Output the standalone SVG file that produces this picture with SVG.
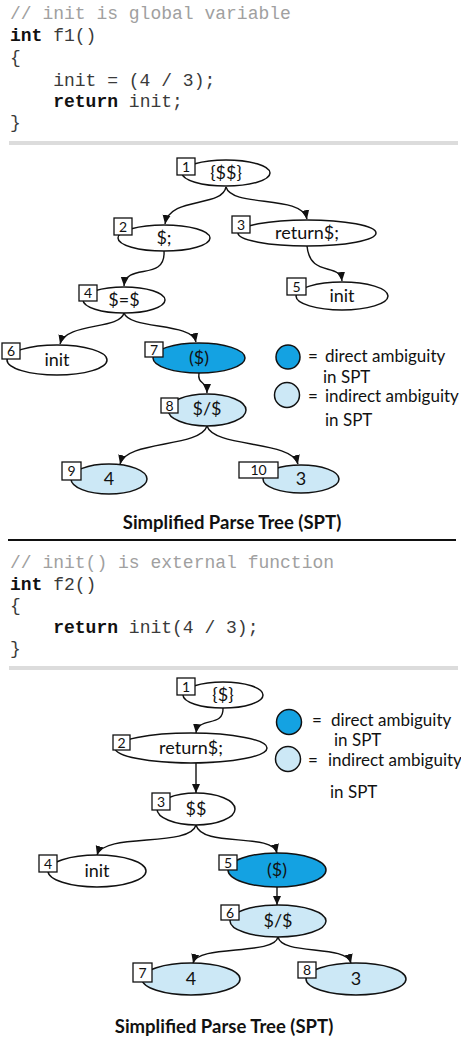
<svg xmlns="http://www.w3.org/2000/svg" width="461" height="1038" viewBox="0 0 461 1038">
<style>
.code{font-family:"Liberation Mono",monospace;font-size:18px;fill:#3a3a3a;white-space:pre}
.cm{fill:#a0a0a0}
.kw{font-weight:bold;fill:#111}
.n{fill:#fff;stroke:#111;stroke-width:1.5}
.d{fill:#14a2e2;stroke:#111;stroke-width:1.5}
.l{fill:#cce8f6;stroke:#111;stroke-width:1.5}
.lab{font-family:Lato,"Open Sans",sans-serif;font-size:18px;fill:#111;text-anchor:middle}
.bx{fill:#fff;stroke:#111;stroke-width:1.3}
.bt{font-family:Lato,"Open Sans",sans-serif;font-size:14px;fill:#111;text-anchor:middle}
.leg{font-family:Lato,"Open Sans",sans-serif;font-size:17px;fill:#111}
.title{font-family:Lato,"Open Sans",sans-serif;font-size:18.5px;font-weight:bold;fill:#111;text-anchor:middle}
.e{fill:none;stroke:#111;stroke-width:1.4;marker-end:url(#ah)}
</style>
<defs>
<marker id="ah" markerWidth="10" markerHeight="10" refX="9" refY="5" orient="auto" markerUnits="userSpaceOnUse">
<path d="M0,1 L9,5 L0,9 Z" fill="#111"/>
</marker>
</defs>
<rect width="461" height="1038" fill="#fff"/>

<!-- code 1 -->
<g id="code1">
<text x="10" y="19" class="code cm">// init is global variable</text>
<text x="10" y="41" class="code"><tspan class="kw">int</tspan> f1()</text>
<text x="10" y="63" class="code">{</text>
<text x="10" y="86" class="code">    init = (4 / 3);</text>
<text x="10" y="107" class="code">    <tspan class="kw">return</tspan> init;</text>
<text x="10" y="128" class="code">}</text>
</g>
<rect x="9" y="141" width="449" height="4" fill="#dcdcdc"/>

<!-- tree 1 connectors -->
<g id="edges1">
<path class="e" d="M226,187 C222,208 170,196 165,224"/>
<path class="e" d="M226,187 C232,208 302,194 307,219"/>
<path class="e" d="M164,251 C166,282 126,262 124,286"/>
<path class="e" d="M307,246 C310,278 340,262 342,281"/>
<path class="e" d="M124,313 C120,330 66,322 60,344"/>
<path class="e" d="M124,313 C130,330 192,322 196,342"/>
<path class="e" d="M199,373 C197,385 207,380 207,393"/>
<path class="e" d="M207,426 C200,448 126,440 120,464"/>
<path class="e" d="M207,426 C214,448 292,440 298,464"/>
</g>

<g id="t1n1"><ellipse class="n" cx="226" cy="173" rx="44" ry="13"/><text class="lab" x="226" y="179">{$$}</text><rect class="bx" x="177" y="158" width="18" height="17"/><text class="bt" x="186" y="171.5">1</text></g>
<g id="t1n2"><ellipse class="n" cx="164" cy="238" rx="46" ry="13"/><text class="lab" x="164" y="244">$;</text><rect class="bx" x="114" y="218" width="18" height="17"/><text class="bt" x="123" y="231.5">2</text></g>
<g id="t1n3"><ellipse class="n" cx="307" cy="233" rx="69" ry="13"/><text class="lab" x="307" y="239">return$;</text><rect class="bx" x="232" y="216" width="18" height="17"/><text class="bt" x="241" y="229.5">3</text></g>
<g id="t1n4"><ellipse class="n" cx="124" cy="300" rx="41" ry="13"/><text class="lab" x="124" y="306">$=$</text><rect class="bx" x="79" y="285" width="18" height="16"/><text class="bt" x="88" y="298">4</text></g>
<g id="t1n5"><ellipse class="n" cx="342" cy="296" rx="46" ry="14"/><text class="lab" x="342" y="302">init</text><rect class="bx" x="287" y="278" width="19" height="17"/><text class="bt" x="296.5" y="291.5">5</text></g>
<g id="t1n6"><ellipse class="n" cx="57" cy="360" rx="50" ry="15"/><text class="lab" x="57" y="366">init</text><rect class="bx" x="2" y="343" width="18" height="16"/><text class="bt" x="11" y="356">6</text></g>
<g id="t1n7"><ellipse class="d" cx="199" cy="358" rx="46" ry="15"/><text class="lab" x="199" y="364">($)</text><rect class="bx" x="145" y="342" width="18" height="15"/><text class="bt" x="154" y="354.5">7</text></g>
<g id="t1n8"><ellipse class="l" cx="207" cy="410" rx="39" ry="16"/><text class="lab" x="207" y="415">$/$</text><rect class="bx" x="161" y="398" width="17" height="15"/><text class="bt" x="169.5" y="410.5">8</text></g>
<g id="t1n9"><ellipse class="l" cx="109" cy="479" rx="38" ry="15"/><text class="lab" x="109" y="485">4</text><rect class="bx" x="62" y="462" width="19" height="18"/><text class="bt" x="71.5" y="475.5">9</text></g>
<g id="t1n10"><ellipse class="l" cx="301" cy="479" rx="38" ry="14"/><text class="lab" x="301" y="485">3</text><rect class="bx" x="239" y="462" width="39" height="16"/><text class="bt" x="258.5" y="475">10</text></g>

<g id="legend1">
<circle class="d" cx="288" cy="357" r="12"/>
<text class="leg" y="362"><tspan x="308">=</tspan><tspan x="325">direct ambiguity</tspan></text>
<text class="leg" x="323" y="383">in SPT</text>
<circle class="l" cx="287" cy="395" r="12.5"/>
<text class="leg" y="402"><tspan x="308">=</tspan><tspan x="325">indirect ambiguity</tspan></text>
<text class="leg" x="325" y="426">in SPT</text>
</g>
<text class="title" x="232" y="529">Simplified Parse Tree (SPT)</text>
<rect x="8" y="539" width="448" height="2" fill="#111"/>

<!-- code 2 -->
<g id="code2">
<text x="10" y="568" class="code cm">// init() is external function</text>
<text x="10" y="590" class="code"><tspan class="kw">int</tspan> f2()</text>
<text x="10" y="611" class="code">{</text>
<text x="10" y="633" class="code">    <tspan class="kw">return</tspan> init(4 / 3);</text>
<text x="10" y="654" class="code">}</text>
</g>
<rect x="9" y="666" width="449" height="4" fill="#dcdcdc"/>

<!-- tree 2 connectors -->
<g id="edges2">
<path class="e" d="M223,708 C224,728 198,716 196,733"/>
<path class="e" d="M196,763 L196,793"/>
<path class="e" d="M196,825 C190,848 104,832 97,855"/>
<path class="e" d="M196,825 C202,848 272,832 277,853"/>
<path class="e" d="M277,887 L277,905"/>
<path class="e" d="M278,937 C274,956 198,944 193,963"/>
<path class="e" d="M278,937 C282,956 346,944 351,963"/>
</g>

<g id="t2n1"><ellipse class="n" cx="223" cy="695" rx="40" ry="13"/><text class="lab" x="223" y="701">{$}</text><rect class="bx" x="177" y="678" width="18" height="17"/><text class="bt" x="186" y="691.5">1</text></g>
<g id="t2n2"><ellipse class="n" cx="191" cy="748" rx="76" ry="15"/><text class="lab" x="191" y="754">return$;</text><rect class="bx" x="113" y="735" width="17" height="15"/><text class="bt" x="121.5" y="747.5">2</text></g>
<g id="t2n3"><ellipse class="n" cx="196" cy="809" rx="39" ry="16"/><text class="lab" x="196" y="815">$$</text><rect class="bx" x="152" y="793" width="18" height="17"/><text class="bt" x="161" y="806.5">3</text></g>
<g id="t2n4"><ellipse class="n" cx="97" cy="871" rx="49" ry="16"/><text class="lab" x="97" y="877">init</text><rect class="bx" x="39" y="855" width="18" height="17"/><text class="bt" x="48" y="868.5">4</text></g>
<g id="t2n5"><ellipse class="d" cx="277" cy="870" rx="49" ry="17"/><text class="lab" x="277" y="876">($)</text><rect class="bx" x="219" y="855" width="18" height="15"/><text class="bt" x="228" y="867.5">5</text></g>
<g id="t2n6"><ellipse class="l" cx="278" cy="921" rx="48" ry="16"/><text class="lab" x="278" y="927">$/$</text><rect class="bx" x="221" y="905" width="18" height="15"/><text class="bt" x="230" y="917.5">6</text></g>
<g id="t2n7"><ellipse class="l" cx="191" cy="979" rx="49" ry="16"/><text class="lab" x="191" y="985">4</text><rect class="bx" x="133" y="963" width="19" height="19"/><text class="bt" x="142.5" y="977.5">7</text></g>
<g id="t2n8"><ellipse class="l" cx="356" cy="979" rx="50" ry="16"/><text class="lab" x="356" y="985">3</text><rect class="bx" x="298" y="962" width="18" height="16"/><text class="bt" x="307" y="975">8</text></g>

<g id="legend2">
<circle class="d" cx="289" cy="722" r="12.5"/>
<text class="leg" y="726"><tspan x="312">=</tspan><tspan x="331">direct ambiguity</tspan></text>
<text class="leg" x="334" y="746">in SPT</text>
<circle class="l" cx="288" cy="759" r="12.5"/>
<text class="leg" y="766"><tspan x="308">=</tspan><tspan x="328">indirect ambiguity</tspan></text>
<text class="leg" x="330" y="798">in SPT</text>
</g>
<text class="title" x="224" y="1033">Simplified Parse Tree (SPT)</text>
</svg>
